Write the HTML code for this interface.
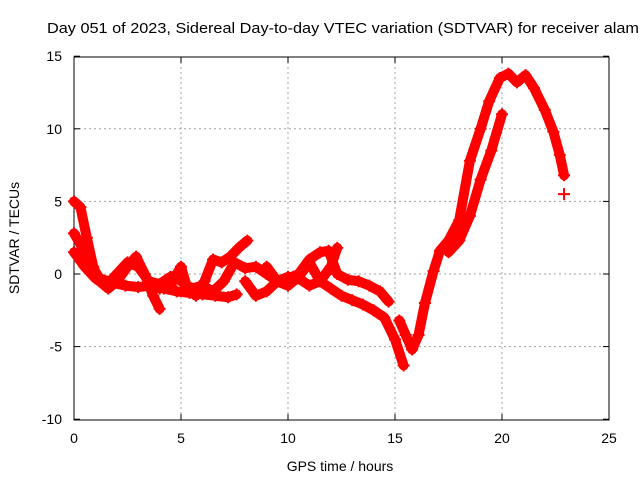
<!DOCTYPE html>
<html><head><meta charset="utf-8"><style>
body{margin:0;background:#fff;}
svg{display:block;font-family:"Liberation Sans",sans-serif;}
</style></head><body>
<svg id="chart" width="640" height="480">
<text x="47" y="33" font-size="15" textLength="592" lengthAdjust="spacingAndGlyphs">Day 051 of 2023, Sidereal Day-to-day VTEC variation (SDTVAR) for receiver alam</text>
<text x="340" y="471" font-size="14" text-anchor="middle">GPS time / hours</text>
<text transform="translate(19,238) rotate(-90)" font-size="14" text-anchor="middle">SDTVAR / TECUs</text>
<g id="grid"></g><g id="axes"></g><g id="marks"></g>
</svg>
<script>
const xTicks=[0,5,10,15,20,25];
const yTicks=[-10,-5,0,5,10,15];
const t1h=[0,0.3,0.6,0.9,1.2,1.6,2.0,2.5,2.9,3.3,3.7,4.0];
const t1v=[5,4.6,2.5,0.5,-0.5,-1,-0.5,0.5,1.2,0,-1.5,-2.4];
const t2h=[0,0.4,0.8,1.2,1.8,2.4,3.0,3.6,4.2,4.8,5.4,6.0,6.6,7.2,7.6];
const t2v=[2.8,1.8,0.6,-0.3,-0.6,-0.8,-0.9,-0.8,-1,-1.2,-1.3,-1.4,-1.5,-1.6,-1.4];
const t3h=[0,0.5,1,1.5,2,2.5,3,3.5,4,4.5,5];
const t3v=[1.5,0.5,-0.3,-0.8,0,0.8,0.5,-0.5,-0.7,-0.2,0];
const t4h=[4,4.5,5,5.3,5.7,6.1,6.5,6.9,7.3,7.7,8.1];
const t4v=[-1,-0.8,0.5,-1,-1.5,-0.5,1,0.8,1.2,1.8,2.3];
const t5h=[5,5.5,6,6.5,7,7.5,8,8.5,9,9.5,10];
const t5v=[-0.5,-1,-0.8,-1.2,-0.5,0.8,0.4,0.5,0,-0.5,-0.8];
const t6h=[8,8.5,9,9.5,10,10.5,11,11.5,12,12.3];
const t6v=[-0.5,-1.5,-1.2,-0.5,-0.2,-0.3,-0.8,-0.5,0.5,1.8];
const t7h=[9,9.5,10,10.5,11,11.5,12,12.5,13,13.5,14,14.5,15,15.4];
const t7v=[0.5,-0.5,-0.8,-0.2,0.8,-0.5,-1,-1.5,-1.8,-2.1,-2.5,-3,-4.5,-6.3];
const t8h=[10,10.5,11,11.5,11.9,12.3,12.8,13.3,13.8,14.3,14.7];
const t8v=[-0.3,0,1,1.5,1.6,0,-0.4,-0.5,-0.8,-1.2,-1.9];
const t9h=[15.2,15.5,15.8,16.1,16.4,16.8,17.1,17.5,18.0,18.5,19.0,19.4,19.9,20.3,20.7,21.1,21.5,22.0,22.4,22.7,22.9];
const t9v=[-3.2,-4.2,-5.2,-4.2,-2,0.2,1.6,2.3,3.7,7.8,10,11.9,13.5,13.8,13.2,13.7,12.8,11.3,9.8,8.2,6.8];
const t10h=[17.5,18,18.5,19,19.5,20];
const t10v=[1.5,2.3,4,6.5,8.5,11];
const t11h=[22.9];
const t11v=[5.5];
const tracks=[[t1h,t1v],[t2h,t2v],[t3h,t3v],[t4h,t4v],[t5h,t5v],[t6h,t6v],[t7h,t7v],[t8h,t8v],[t9h,t9v],[t10h,t10v],[t11h,t11v]];
const X=h=>74+h*(535/25);
const Y=v=>274-v*(363/25);
const NS='http://www.w3.org/2000/svg';
function mk(tag,attrs,parent){const e=document.createElementNS(NS,tag);for(const k in attrs)e.setAttribute(k,attrs[k]);parent.appendChild(e);return e;}
const grid=document.getElementById('grid'),axes=document.getElementById('axes'),marks=document.getElementById('marks');
xTicks.forEach(t=>{
 if(t>0&&t<25){const l=mk('line',{x1:X(t),x2:X(t),y1:57,y2:420,stroke:'#a0a0a0','stroke-dasharray':'2,3'},grid);
 
 }
 const tx=mk('text',{x:X(t),y:443,'font-size':14,'text-anchor':'middle'},axes);tx.textContent=t;
 
 
 mk('line',{x1:X(t),x2:X(t),y1:420,y2:414,stroke:'#000'},axes);
 mk('line',{x1:X(t),x2:X(t),y1:57,y2:63,stroke:'#000'},axes);
});
yTicks.forEach(t=>{
 if(t>-10&&t<15){const l=mk('line',{x1:74,x2:609,y1:Y(t),y2:Y(t),stroke:'#a0a0a0','stroke-dasharray':'2,3'},grid);
 
 }
 const tx=mk('text',{x:62,y:Y(t)+5,'font-size':14,'text-anchor':'end'},axes);tx.textContent=t;
 
 
 mk('line',{x1:74,x2:80,y1:Y(t),y2:Y(t),stroke:'#000'},axes);
 mk('line',{x1:609,x2:603,y1:Y(t),y2:Y(t),stroke:'#000'},axes);
});
const fr=mk('rect',{x:74,y:57,width:535,height:363,fill:'none',stroke:'#000'},axes);


tracks.forEach(([hs,vs])=>{
 const pts=hs.map((h,i)=>X(h)+','+Y(vs[i])).join(' ');
 const pl=mk('polyline',{points:pts,fill:'none',stroke:'#ff0000','stroke-width':10,'stroke-linejoin':'round','stroke-linecap':'round'},marks);
 
 
 hs.forEach((h,i)=>{
  const x=X(h),y=Y(vs[i]);
  const p=mk('path',{d:`M${x-6},${y}H${x+6}M${x},${y-6}V${y+6}`,stroke:'#ff0000','stroke-width':2},marks);
  
  
 });
});
</script>
</body></html>
